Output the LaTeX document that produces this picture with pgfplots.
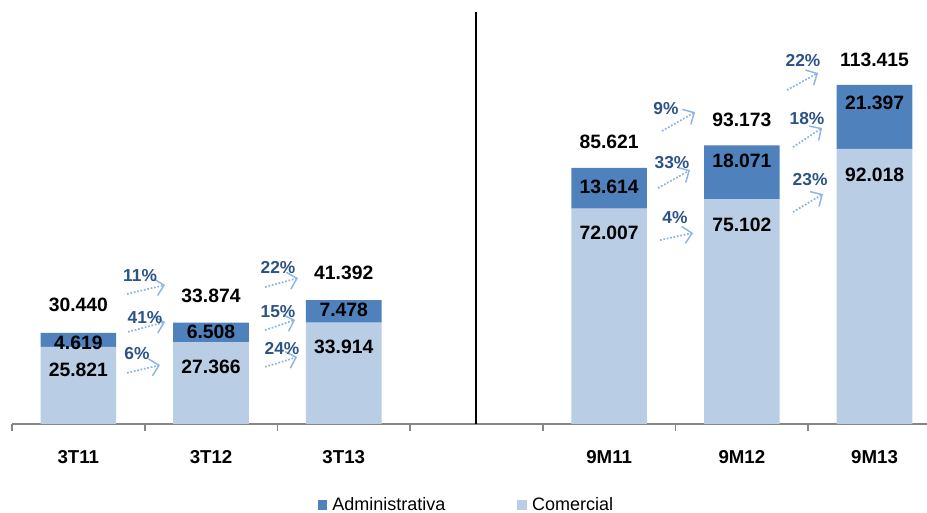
\documentclass[border=0pt]{standalone}
\usepackage{pgfplots}
\pgfplotsset{compat=1.18}
\usepackage{fontspec}
\setmainfont{Liberation Sans}
\usetikzlibrary{arrows.meta}

\definecolor{adm}{HTML}{4F81BD}
\definecolor{com}{HTML}{B9CDE5}
\definecolor{pct}{HTML}{2C5386}
\definecolor{arrcol}{HTML}{8DB4E2}
\definecolor{axgray}{HTML}{868686}

\tikzset{
    lbl/.style={font=\fontsize{14.5}{17}\selectfont\bfseries, inner sep=0pt},
    pctl/.style={font=\fontsize{13}{15}\selectfont\bfseries, text=pct, inner sep=0pt},
    growth/.style={draw=arrcol, line width=1.3pt, dash pattern=on 1.3pt off 1.3pt,
        -{Straight Barb[length=6.5pt, width=13pt, line width=1.1pt]}},
}

\begin{document}
\begin{tikzpicture}
\begin{axis}[
    at={(0,0)}, anchor=south west,
    x=99.525pt, y=2.2425pt,
    xmin=-0.5, xmax=6.395, ymin=0, ymax=137.8,
    ybar stacked, bar width=0.57,
    clip=false,
    axis x line=bottom, axis y line=none,
    x axis line style={-, draw=axgray, line width=1.3pt},
    xtick={0,1,2,4,5,6},
    xticklabels={3T11,3T12,3T13,9M11,9M12,9M13},
    minor xtick={-0.5,0.5,...,5.5},
    major tick length=0pt,
    minor tick length=5pt,
    tick align=outside,
    minor tick style={draw=axgray, line width=1.2pt},
    xticklabel style={anchor=center, yshift=-25pt, font=\fontsize{14}{16}\selectfont\bfseries},
    legend style={at={(0.497,-0.197)}, anchor=center, draw=none, fill=none,
        legend columns=2, font=\fontsize{13.5}{16}\selectfont,
        /tikz/every even column/.append style={column sep=52pt},
        /tikz/every odd column/.append style={column sep=2pt}},
    legend image code/.code={\fill[#1,draw=none] (0pt,-3.6pt) rectangle (7pt,3.6pt);},
]
\addlegendimage{fill=adm, draw=none}
\addlegendentry{Administrativa}
% Comercial (base)
\addplot[fill=com, draw=none] coordinates {
    (0,25.821) (1,27.366) (2,33.914) (4,72.007) (5,75.102) (6,92.018)
};
\addlegendentry{Comercial}
% Administrativa
\addplot[fill=adm, draw=none, forget plot] coordinates {
    (0,4.619) (1,6.508) (2,7.478) (4,13.614) (5,18.071) (6,21.397)
};

% separador
\draw[black, line width=1.5pt] (axis cs:3,0) -- (axis cs:3,137.8);

% totales
\node[lbl] at (axis cs:0,39.8) {30.440};
\node[lbl] at (axis cs:1,42.8) {33.874};
\node[lbl] at (axis cs:2,50.5) {41.392};
\node[lbl] at (axis cs:4,94.3) {85.621};
\node[lbl] at (axis cs:5,101.7) {93.173};
\node[lbl] at (axis cs:6,121.7) {113.415};

% puntos para etiquetas dentro de las barras
\coordinate (a1) at (axis cs:0,27.1);
\coordinate (a2) at (axis cs:1,30.8);
\coordinate (a3) at (axis cs:2,38.1);
\coordinate (a4) at (axis cs:4,79.3);
\coordinate (a5) at (axis cs:5,88.0);
\coordinate (a6) at (axis cs:6,107.4);
\coordinate (c1) at (axis cs:0,18.1);
\coordinate (c2) at (axis cs:1,19.1);
\coordinate (c3) at (axis cs:2,25.8);
\coordinate (c4) at (axis cs:4,63.9);
\coordinate (c5) at (axis cs:5,66.6);
\coordinate (c6) at (axis cs:6,83.3);

% variaciones
\node[pctl] at (axis cs:0.465,49.5) {11\%};
\node[pctl] at (axis cs:0.502,35.5) {41\%};
\node[pctl] at (axis cs:0.442,23.7) {6\%};
\node[pctl] at (axis cs:1.505,52.5) {22\%};
\node[pctl] at (axis cs:1.505,37.5) {15\%};
\node[pctl] at (axis cs:1.535,25.4) {24\%};
\node[pctl] at (axis cs:4.428,105.4) {9\%};
\node[pctl] at (axis cs:4.474,87.6) {33\%};
\node[pctl] at (axis cs:4.496,69.2) {4\%};
\node[pctl] at (axis cs:5.461,121.7) {22\%};
\node[pctl] at (axis cs:5.491,102.0) {18\%};
\node[pctl] at (axis cs:5.514,81.6) {23\%};

\draw[growth] (axis cs:0.367,43.5) -- (axis cs:0.653,46.5);
\draw[growth] (axis cs:0.374,30.8) -- (axis cs:0.653,34.1);
\draw[growth] (axis cs:0.367,17.1) -- (axis cs:0.615,19.7);
\draw[growth] (axis cs:1.407,45.8) -- (axis cs:1.655,48.8);
\draw[growth] (axis cs:1.407,31.4) -- (axis cs:1.633,34.8);
\draw[growth] (axis cs:1.407,19.1) -- (axis cs:1.648,22.4);
\draw[growth] (axis cs:4.398,98.0) -- (axis cs:4.647,104.3);
\draw[growth] (axis cs:4.368,78.9) -- (axis cs:4.609,84.9);
\draw[growth] (axis cs:4.383,61.5) -- (axis cs:4.632,63.9);
\draw[growth] (axis cs:5.340,111.7) -- (axis cs:5.574,117.4);
\draw[growth] (axis cs:5.385,92.6) -- (axis cs:5.604,99.0);
\draw[growth] (axis cs:5.385,70.9) -- (axis cs:5.611,76.9);
\end{axis}

\node[lbl] at (a1) {4.619};
\node[lbl] at (a2) {6.508};
\node[lbl] at (a3) {7.478};
\node[lbl] at (a4) {13.614};
\node[lbl] at (a5) {18.071};
\node[lbl] at (a6) {21.397};
\node[lbl] at (c1) {25.821};
\node[lbl] at (c2) {27.366};
\node[lbl] at (c3) {33.914};
\node[lbl] at (c4) {72.007};
\node[lbl] at (c5) {75.102};
\node[lbl] at (c6) {92.018};

\pgfresetboundingbox
\path[use as bounding box] (-9pt,-66.75pt) rectangle (686.25pt,318pt);
\end{tikzpicture}
\end{document}
